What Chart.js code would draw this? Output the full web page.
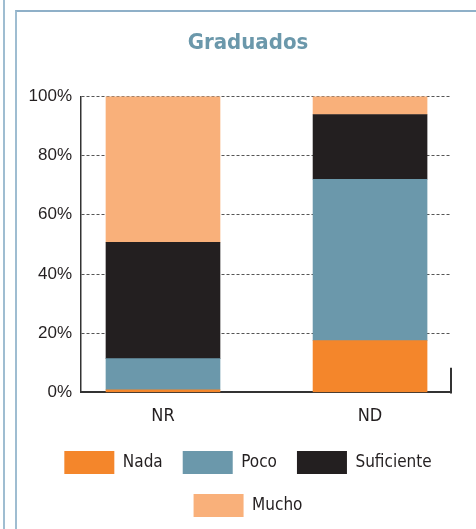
<!DOCTYPE html>
<html>
<head>
<meta charset="utf-8">
<script src="https://cdn.jsdelivr.net/npm/chart.js@4/dist/chart.umd.min.js"></script>
<style>
  html, body { margin: 0; padding: 0; background: #fff; overflow: hidden; }
  #wrap { position: relative; width: 476px; height: 529px; }
  #outer { position: absolute; left: 3px; top: 0; width: 0; height: 529px; border-left: 2px solid #9fbdd1; }
  #frame { position: absolute; left: 15px; top: 10px; width: 470px; height: 530px; border-left: 2px solid #9fbdd1; border-top: 2px solid #8fb0c8; }
  #cv { position: absolute; left: 0; top: 0; }
</style>
</head>
<body>
<div id="wrap">
  <div id="outer"></div>
  <div id="frame"></div>
  <canvas id="cv" width="476" height="529"></canvas>
</div>
<script>
const title = 'Graduados';
const categories = ['NR', 'ND'];
const seriesNames = ['Nada', 'Poco', 'Suficiente', 'Mucho'];
const nada = [0.9, 17.5];
const poco = [10.5, 54.5];
const suficiente = [39.3, 21.9];
const mucho = [49.3, 6.1];
const yTicks = [0, 20, 40, 60, 80, 100];
const colors = ['#f4862b', '#6b98ab', '#231f20', '#f9b07a'];

const NARROW = "'DejaVu Sans Condensed', 'Liberation Sans Narrow', 'Open Sans', sans-serif";
const REG = "'Liberation Sans', 'Open Sans', sans-serif";

const X_MIN = -0.396, X_MAX = 1.391;

const values = [nada, poco, suficiente, mucho];
const datasets = seriesNames.map((name, i) => ({
  label: name,
  data: values[i].map((v, j) => ({ x: j, y: v })),
  backgroundColor: colors[i],
  borderWidth: 0,
  barThickness: 114
}));

const rightTick = {
  id: 'rightTick',
  afterDraw(chart) {
    const { ctx, chartArea, scales } = chart;
    const y0 = scales.y.getPixelForValue(0);
    const y1 = scales.y.getPixelForValue(8.3);
    ctx.save();
    ctx.strokeStyle = '#333';
    ctx.lineWidth = 2;
    ctx.beginPath();
    ctx.moveTo(chartArea.right, y1);
    ctx.lineTo(chartArea.right, y0 + 1);
    ctx.stroke();
    ctx.restore();
  }
};

new Chart(document.getElementById('cv'), {
  type: 'bar',
  data: { datasets },
  plugins: [rightTick],
  options: {
    responsive: false,
    animation: false,
    layout: { padding: { left: 20, right: 0, top: 0, bottom: 2 } },
    scales: {
      x: {
        type: 'linear',
        stacked: true,
        offset: false,
        bounds: 'data',
        min: X_MIN,
        max: X_MAX,
        z: 1,
        afterBuildTicks: (s) => {
          s.ticks = categories.map((c, i) => ({ value: i }));
          s.min = X_MIN; s.max = X_MAX;
        },
        afterFit: (s) => { s.height = s.height - 9; },
        ticks: {
          callback: (v) => categories[v] ?? '',
          color: '#231f20',
          font: { family: NARROW, size: 18 },
          padding: 13
        },
        grid: { display: false, drawTicks: false, offset: false },
        border: { display: true, color: '#333', width: 2 }
      },
      y: {
        stacked: true,
        min: 0,
        max: 100,
        afterBuildTicks: (s) => { s.ticks = yTicks.map(v => ({ value: v })); },
        afterFit: (s) => { s.width = 61; },
        ticks: {
          callback: (v) => v + '%',
          color: '#231f20',
          font: { family: REG, size: 17 },
          padding: 9
        },
        grid: { color: '#555', lineWidth: 1, drawTicks: false },
        border: { display: true, color: '#333', width: 1.5, dash: [3, 2] }
      },
      y2: {
        position: 'right',
        display: true,
        afterFit: (s) => { s.width = 25; },
        ticks: { display: false },
        grid: { display: false, drawTicks: false },
        border: { display: false }
      }
    },
    plugins: {
      title: {
        display: true,
        text: title,
        color: '#6b98ab',
        font: { family: NARROW, size: 22, weight: 'bold' },
        padding: { top: 30, bottom: 40 }
      },
      legend: {
        position: 'bottom',
        labels: {
          boxWidth: 50,
          boxHeight: 23,
          padding: 20,
          color: '#231f20',
          font: { family: NARROW, size: 17 }
        }
      },
      tooltip: { enabled: false }
    }
  }
});
</script>
</body>
</html>
